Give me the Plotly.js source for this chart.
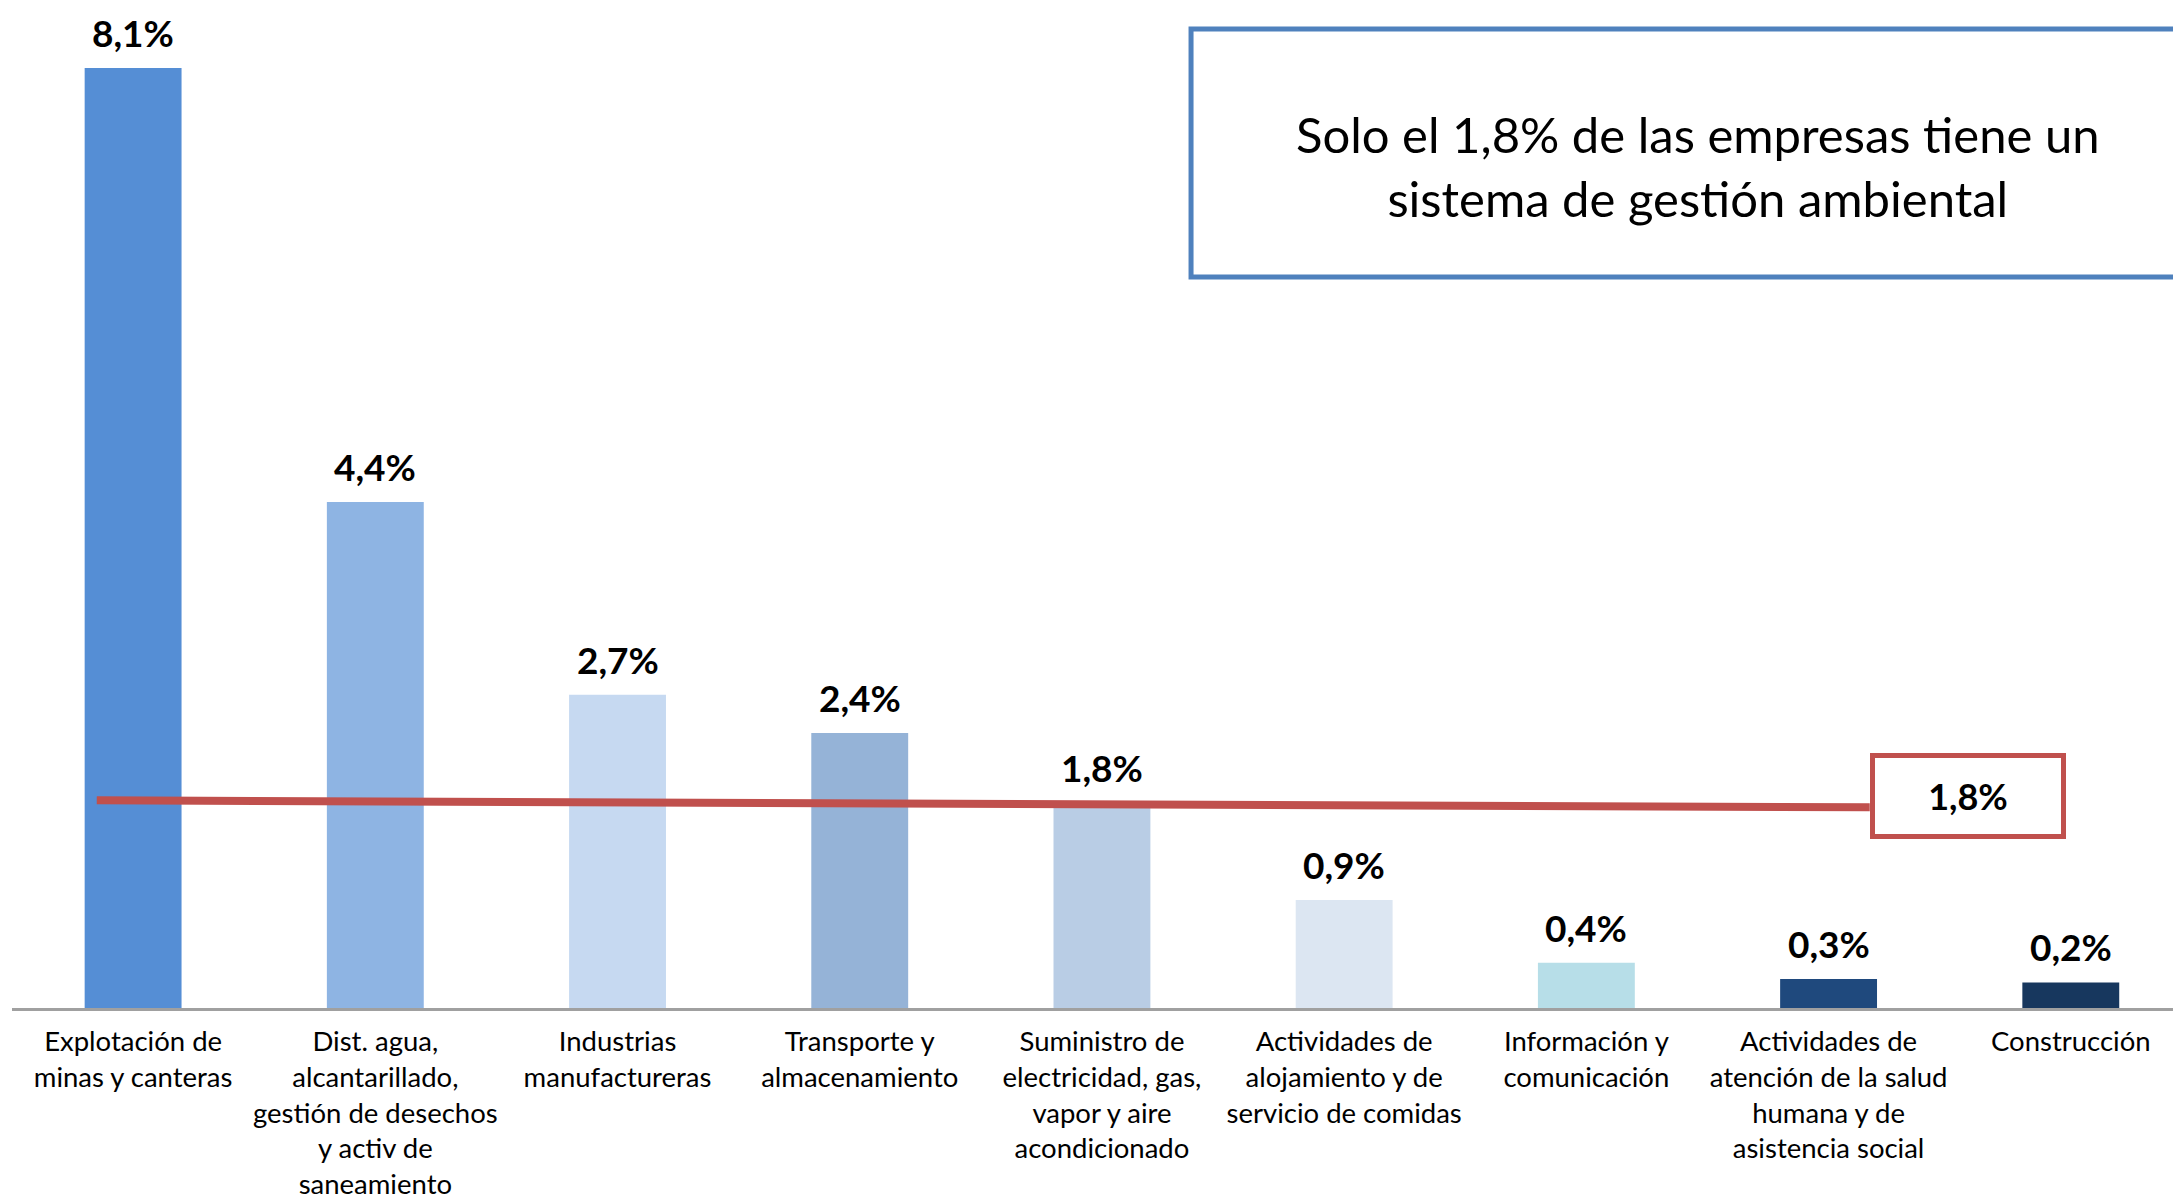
<!DOCTYPE html>
<html>
<head>
<meta charset="utf-8">
<script src="https://cdn.plot.ly/plotly-3.0.1.min.js"></script>
<style>html,body{margin:0;padding:0;background:#fff;}#chart{width:2173px;height:1199px;}</style>
</head>
<body>
<div id="chart"></div>
<script>
// ---- data ----
const categories = [
  "Explotación de<br>minas y canteras",
  "Dist. agua,<br>alcantarillado,<br>gestión de desechos<br>y activ de<br>saneamiento",
  "Industrias<br>manufactureras",
  "Transporte y<br>almacenamiento",
  "Suministro de<br>electricidad, gas,<br>vapor y aire<br>acondicionado",
  "Actividades de<br>alojamiento y de<br>servicio de comidas",
  "Información y<br>comunicación",
  "Actividades de<br>atención de la salud<br>humana y de<br>asistencia social",
  "Construcción"
];
// bar heights (unrounded), labels as printed
const values = [8.1, 4.36, 2.7, 2.37, 1.77, 0.93, 0.39, 0.25, 0.22];
const valueLabels = ["8,1%", "4,4%", "2,7%", "2,4%", "1,8%", "0,9%", "0,4%", "0,3%", "0,2%"];
const barColors = ["#558ED5", "#8EB4E3", "#C6D9F1", "#95B3D7", "#B9CDE5", "#DCE6F2", "#B7DEE8", "#1F497D", "#17375E"];

// average reference line (hand-drawn, slightly slanted), in category index / % units
const avgLineX = [-0.15, 7.17];
const avgLineY = [1.79, 1.73];
const avgValue = 1.8;
const avgLabel = "1,8%";
const avgLabelPos = {x: 7.576, y: 1.83};

const boxText = "Solo el 1,8% de las empresas tiene un<br>sistema de gestión ambiental";

const xIdx = categories.map((c, i) => i);
const FONT = "Lato, 'Open Sans', sans-serif";

const traces = [
  {
    type: "bar",
    x: xIdx,
    y: values,
    marker: {color: barColors},
    width: 0.4,
    hoverinfo: "skip",
    showlegend: false
  },
  {
    type: "scatter",
    mode: "lines",
    x: avgLineX,
    y: avgLineY,
    line: {color: "#C0504D", width: 8},
    hoverinfo: "skip",
    showlegend: false,
    cliponaxis: false
  }
];

const annotations = values.map((v, i) => ({
  x: i, y: v, xref: "x", yref: "y",
  text: "<b>" + valueLabels[i] + "</b>",
  showarrow: false,
  yanchor: "bottom",
  yshift: 11,
  font: {family: FONT, size: 37, color: "#000"}
}));

annotations.push({
  x: avgLabelPos.x, y: avgLabelPos.y, xref: "x", yref: "y",
  text: "<b>" + avgLabel + "</b>",
  showarrow: false,
  xanchor: "center", yanchor: "middle",
  width: 186, height: 76,
  bgcolor: "#ffffff",
  bordercolor: "#C0504D",
  borderwidth: 5,
  borderpad: 0,
  font: {family: FONT, size: 36, color: "#000"}
});

annotations.push({
  x: 0.780, y: 0.835, xref: "paper", yref: "paper",
  text: boxText,
  showarrow: false,
  xanchor: "center", yanchor: "middle",
  align: "center",
  font: {family: FONT, size: 49, color: "#000"}
});

const layout = {
  width: 2173, height: 1199,
  margin: {l: 12, r: 0, t: 0, b: 191, pad: 0},
  paper_bgcolor: "#fff", plot_bgcolor: "#fff",
  showlegend: false,
  xaxis: {
    type: "linear",
    range: [-0.5, 8.422],
    tickmode: "array",
    tickvals: xIdx,
    ticktext: categories,
    showgrid: false, zeroline: false,
    showline: true, linecolor: "#A0A0A0", linewidth: 3,
    ticks: "",
    ticklabelstandoff: 7,
    tickfont: {family: FONT, size: 27.5, color: "#000"}
  },
  yaxis: {
    range: [0, 8.686],
    showgrid: false, zeroline: false, showline: false,
    showticklabels: false, ticks: ""
  },
  shapes: [{
    type: "rect", xref: "paper", yref: "paper",
    x0: 0.5456, x1: 1.02, y0: 0.7252, y1: 0.9712,
    line: {color: "#4F81BD", width: 5},
    fillcolor: "rgba(0,0,0,0)",
    layer: "above"
  }],
  annotations: annotations
};

Plotly.newPlot("chart", traces, layout, {staticPlot: true, displayModeBar: false});
</script>
</body>
</html>
